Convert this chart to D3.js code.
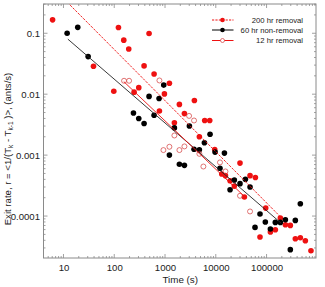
<!DOCTYPE html>
<html>
<head>
<meta charset="utf-8">
<script src="https://cdn.jsdelivr.net/npm/d3@7/dist/d3.min.js"></script>
<style>
  html, body { margin: 0; padding: 0; background: #fff; }
  svg { display: block; }
  text { font-family: "Liberation Sans", Arial, sans-serif; fill: #222; }
</style>
</head>
<body>
<svg id="chart" width="325" height="287"></svg>
<script>
// ---- data (time in s, rate in ants/s) ----
const removal200T = [6.1,121,154,193,485,39,98,387,609,304,246,1220,973,776,1920,3790,2410,1530,6050,7600,4750,9530,30000,13100,15500,19100,23200,47300,60300,36600,96200,187000,235000,294000,74300,119000,149000,369000,463000,581000,750000];
const removal200R = [0.166,0.124,0.077,0.055,0.099,0.0288,0.0112,0.0291,0.0215,0.0128,0.0108,0.0151,0.0101,0.0053,0.0068,0.0079,0.0048,0.0034,0.0037,0.0037,0.0020,0.00124,0.00074,0.00049,0.00046,0.00038,0.00031,0.00046,0.00043,0.000205,0.000135,0.0000927,0.0000721,0.0000703,0.0000453,0.0000547,0.0000597,0.0000425,0.0000441,0.0000394,0.000027];

const nonRemoval60T = [11.8,19.1,30.6,944,485,764,239,304,387,609,1530,3020,7710,5970,3730,4750,1220,9680,14800,1920,2410,12100,19100,23200,30000,38300,47300,74300,94600,59300,119000,149000,187000,235000,369000,463000,294000];
const nonRemoval60R = [0.100,0.125,0.0414,0.0141,0.0092,0.0085,0.0049,0.0040,0.0033,0.0045,0.0028,0.0030,0.0022,0.0016,0.00125,0.00122,0.0010,0.00112,0.00108,0.00071,0.00068,0.00061,0.00027,0.00039,0.00034,0.00040,0.00030,0.000108,0.0000798,0.0000652,0.0000612,0.0000787,0.0000787,0.0000871,0.0000849,0.000159,0.0000281];

const removal12T = [156,196,776,2980,3730,1530,930,1220,1920,2410,5700,4750,12100,15500,30000,47300];
const removal12R = [0.0166,0.0166,0.0168,0.0044,0.0037,0.0021,0.00121,0.00137,0.00121,0.00139,0.00065,0.00105,0.00076,0.00054,0.000215,0.000119];

// power-law fit lines: [time, rate] end points
const fit200 = [[12, 0.32], [184000, 0.0000988]];
const fit60 = [[12.2, 0.080], [193000, 0.0000767]];
const fit12 = [[154, 0.0161], [37700, 0.000205]];

const xTickValues = [10, 100, 1000, 10000, 100000];
const xTickLabels = ["10", "100", "1000", "10000", "100000"];
const yTickValues = [0.1, 0.01, 0.001, 0.0001];
const yTickLabels = ["0.1", "0.01", "0.001", "0.0001"];

const legendLabels = ["200 hr removal", "60 hr non-removal", "12 hr removal"];

// ---- drawing ----
const RED = "#ee1111";
const OPEN_RED = "#d23a3a";
const FRAME = "#8a8a8a";

const svg = d3.select("#chart");
const L = 43.5, R = 316, T = 4, B = 258;

const x = d3.scaleLog().domain([4.04, 942000]).range([L, R]);
const y = d3.scaleLog().domain([2.05e-5, 0.302]).range([B, T]);

svg.append("defs").append("clipPath").attr("id", "clip")
  .append("rect").attr("x", L).attr("y", T).attr("width", R - L).attr("height", B - T);

// minor ticks
function minorTicks(domain) {
  const out = [];
  const lo = Math.floor(Math.log10(domain[0])), hi = Math.ceil(Math.log10(domain[1]));
  for (let e = lo; e <= hi; e++) {
    for (let m = 1; m <= 9; m++) {
      const v = m * Math.pow(10, e);
      if (v >= domain[0] && v <= domain[1]) out.push({v, major: m === 1});
    }
  }
  return out;
}
const axisG = svg.append("g");
const xt = minorTicks(x.domain());
const yt = minorTicks(y.domain());
const MAJ = 4, MIN = 2;
xt.forEach(t => {
  const len = t.major ? MAJ : MIN;
  const px = x(t.v);
  axisG.append("line").attr("x1", px).attr("x2", px).attr("y1", B).attr("y2", B - len).attr("stroke", FRAME).attr("stroke-width", 0.8);
  axisG.append("line").attr("x1", px).attr("x2", px).attr("y1", T).attr("y2", T + len).attr("stroke", FRAME).attr("stroke-width", 0.8);
});
yt.forEach(t => {
  const len = t.major ? MAJ : MIN;
  const py = y(t.v);
  axisG.append("line").attr("x1", L).attr("x2", L + len).attr("y1", py).attr("y2", py).attr("stroke", FRAME).attr("stroke-width", 0.8);
  axisG.append("line").attr("x1", R).attr("x2", R - len).attr("y1", py).attr("y2", py).attr("stroke", FRAME).attr("stroke-width", 0.8);
});
axisG.append("rect").attr("x", L).attr("y", T).attr("width", R - L).attr("height", B - T)
  .attr("fill", "none").attr("stroke", FRAME).attr("stroke-width", 1);

// tick labels via d3 axes (lines hidden)
const xAxis = d3.axisBottom(x).tickValues(xTickValues).tickFormat((d, i) => xTickLabels[i]).tickSize(0).tickPadding(6);
const xg = svg.append("g").attr("transform", `translate(0,${B})`).call(xAxis);
xg.select(".domain").remove();
xg.selectAll("text").attr("font-size", "9.6px").attr("fill", "#222").attr("font-family", "Liberation Sans, Arial, sans-serif");

const yAxis = d3.axisLeft(y).tickValues(yTickValues).tickFormat((d, i) => yTickLabels[i]).tickSize(0).tickPadding(3.5);
const yg = svg.append("g").attr("transform", `translate(${L},0)`).call(yAxis);
yg.select(".domain").remove();
yg.selectAll("text").attr("font-size", "9.6px").attr("fill", "#222").attr("font-family", "Liberation Sans, Arial, sans-serif");

// axis titles
svg.append("text").attr("x", (L + R) / 2 + 0.5).attr("y", 282.5).attr("text-anchor", "middle")
  .attr("font-size", "9.8px").text("Time (s)");

const yTitle = svg.append("text").attr("transform", "translate(10.5,149) rotate(-90)")
  .attr("text-anchor", "middle").attr("font-size", "9.6px");
yTitle.append("tspan").text("Exit rate, r = <1/(T");
yTitle.append("tspan").attr("font-size", "6.5px").attr("dy", 2).text("k");
yTitle.append("tspan").attr("dy", -2).text(" - T");
yTitle.append("tspan").attr("font-size", "6.5px").attr("dy", 2).text("k-1");
yTitle.append("tspan").attr("dy", -2).text(" )>, (ants/s)");

// points
const plot = svg.append("g").attr("clip-path", "url(#clip)");
const rDot = 2.8;
plot.selectAll("circle.r200").data(d3.zip(removal200T, removal200R)).join("circle")
  .attr("class", "r200").attr("cx", d => x(d[0])).attr("cy", d => y(d[1])).attr("r", rDot).attr("fill", RED);
plot.selectAll("circle.n60").data(d3.zip(nonRemoval60T, nonRemoval60R)).join("circle")
  .attr("class", "n60").attr("cx", d => x(d[0])).attr("cy", d => y(d[1])).attr("r", rDot).attr("fill", "#000");
plot.selectAll("circle.r12").data(d3.zip(removal12T, removal12R)).join("circle")
  .attr("class", "r12").attr("cx", d => x(d[0])).attr("cy", d => y(d[1])).attr("r", rDot - 0.3)
  .attr("fill", "none").attr("stroke", OPEN_RED).attr("stroke-width", 0.7);

// fit lines
const line = d3.line().x(d => x(d[0])).y(d => y(d[1]));
plot.append("path").attr("d", line(fit200)).attr("fill", "none").attr("stroke", RED).attr("stroke-width", 0.9).attr("stroke-dasharray", "2.5,1.2");
plot.append("path").attr("d", line(fit60)).attr("fill", "none").attr("stroke", "#222").attr("stroke-width", 0.9);
plot.append("path").attr("d", line(fit12)).attr("fill", "none").attr("stroke", RED).attr("stroke-width", 0.9);

// legend
const lg = svg.append("g");
const rows = [20, 30, 40.5];
const lx1 = 212, lx2 = 233.5, lmx = 222.5, ltx = 303;
// row 1
lg.append("line").attr("x1", lx1).attr("x2", lx2).attr("y1", rows[0]).attr("y2", rows[0]).attr("stroke", RED).attr("stroke-width", 1).attr("stroke-dasharray", "2.2,1.2");
lg.append("circle").attr("cx", lmx).attr("cy", rows[0]).attr("r", 2.3).attr("fill", RED);
// row 2
lg.append("line").attr("x1", lx1).attr("x2", lx2).attr("y1", rows[1]).attr("y2", rows[1]).attr("stroke", "#000").attr("stroke-width", 1);
lg.append("circle").attr("cx", lmx).attr("cy", rows[1]).attr("r", 2.3).attr("fill", "#000");
// row 3
lg.append("line").attr("x1", lx1).attr("x2", lx2).attr("y1", rows[2]).attr("y2", rows[2]).attr("stroke", RED).attr("stroke-width", 1);
lg.append("circle").attr("cx", lmx).attr("cy", rows[2]).attr("r", 2).attr("fill", "#fff").attr("stroke", OPEN_RED).attr("stroke-width", 0.7);
legendLabels.forEach((t, i) => {
  lg.append("text").attr("x", ltx).attr("y", rows[i] + 2.8).attr("text-anchor", "end").attr("font-size", "7.7px").text(t);
});
</script>
</body>
</html>
